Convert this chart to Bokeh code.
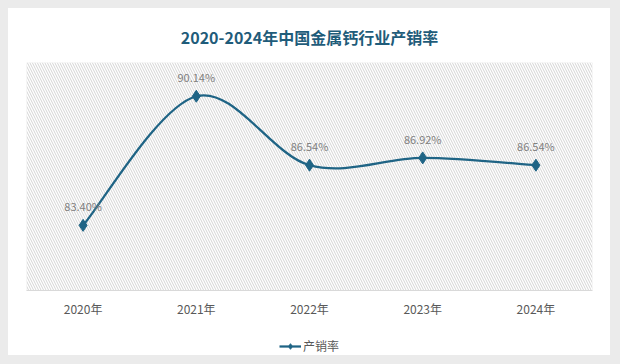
import numpy as np
from bokeh.plotting import figure
from bokeh.layouts import column
from bokeh.core.properties import value
from bokeh.models import (ColumnDataSource, LabelSet, Legend, LegendItem, BoxAnnotation,
                          FixedTicker, Range1d, Title)
from bokeh.embed import file_html
from bokeh.resources import INLINE

# ---- data ----
years = ["2020年", "2021年", "2022年", "2023年", "2024年"]
rate = [83.40, 90.14, 86.54, 86.92, 86.54]
rate_labels = ["83.40%", "90.14%", "86.54%", "86.92%", "86.54%"]
series_name = "产销率"
title_text = "2020-2024年中国金属钙行业产销率"

LINE = "#1f6485"
FONT = "Noto Sans CJK SC"

x = np.arange(len(years), dtype=float)
y = np.array(rate, dtype=float)

p = figure(width=602, height=312, output_backend="svg", toolbar_location=None,
           x_range=Range1d(-0.5, len(years) - 0.5), y_range=Range1d(80.0, 91.9),
           min_border_left=18, min_border_right=18, min_border_top=0, min_border_bottom=30,
           background_fill_color="white", border_fill_color="white")
p.outline_line_color = None
p.grid.visible = False
p.yaxis.visible = False

t = Title(text=title_text, align="center", text_font=FONT, text_font_size="16px",
          text_font_style="bold", text_color="#1f5c7a", standoff=28)
p.add_layout(t, "above")

# hatched plot area
p.add_layout(BoxAnnotation(fill_color="white", fill_alpha=1.0, hatch_pattern="\\",
                           hatch_color="#d4d4d4", hatch_scale=5, hatch_weight=1,
                           line_color="#dcdcdc", line_width=1, level="underlay"))

# smooth (Catmull-Rom -> bezier) curve through the data
px = np.concatenate([[x[0]], x, [x[-1]]])
py = np.concatenate([[y[0]], y, [y[-1]]])
n = len(x)
x0 = x[:-1]; y0 = y[:-1]; x1 = x[1:]; y1 = y[1:]
cx0 = x0 + (px[2:n + 1] - px[0:n - 1]) / 6.0
cy0 = y0 + (py[2:n + 1] - py[0:n - 1]) / 6.0
cx1 = x1 - (px[3:n + 2] - px[1:n]) / 6.0
cy1 = y1 - (py[3:n + 2] - py[1:n]) / 6.0
p.bezier(x0=x0, y0=y0, x1=x1, y1=y1, cx0=cx0, cy0=cy0, cx1=cx1, cy1=cy1,
         line_color=LINE, line_width=2.25)

src = ColumnDataSource(dict(x=x, y=y, lab=rate_labels))
p.scatter("x", "y", source=src, marker="diamond", size=12, fill_color=LINE,
          line_color=LINE)
p.add_layout(LabelSet(x="x", y="y", text="lab", source=src, y_offset=11,
                      text_align="center", text_baseline="bottom", text_font=value(FONT),
                      text_font_size=value("11px"), text_color="#808080"))

p.xaxis.ticker = FixedTicker(ticks=list(x))
p.xaxis.major_label_overrides = {i: s for i, s in enumerate(years)}
p.xaxis.major_tick_line_color = None
p.xaxis.minor_tick_line_color = None
p.xaxis.axis_line_color = "#d9d9d9"
p.xaxis.major_label_text_font = FONT
p.xaxis.major_label_text_font_size = "12px"
p.xaxis.major_label_text_color = "#595959"
p.xaxis.major_label_standoff = 3

# legend strip below the chart (series drawn outside its visible range; only legend shows)
p2 = figure(width=602, height=35, output_backend="svg", toolbar_location=None,
            x_range=Range1d(0, 1), y_range=Range1d(0, 1), min_border=0,
            background_fill_color="white", border_fill_color="white")
p2.outline_line_color = None
p2.axis.visible = False
p2.grid.visible = False
leg_line = p2.line(x=x, y=y, line_color=LINE, line_width=2.25)
leg_mark = p2.scatter(x=x, y=y, marker="diamond", size=9, fill_color=LINE, line_color=LINE)
legend = Legend(items=[LegendItem(label=series_name, renderers=[leg_line, leg_mark])],
                orientation="horizontal", location="bottom_center", border_line_color=None,
                background_fill_alpha=0, label_text_font=FONT, label_text_font_size="12px",
                label_text_color="#595959", glyph_width=22, glyph_height=14,
                label_standoff=2, padding=0, margin=1, spacing=0)
p2.add_layout(legend)

layout = column(p, p2, spacing=0, styles={"background-color": "white"})

html = file_html(layout, INLINE)
html = html.replace("<head>", "<head><style>html,body{background:#ebebeb !important;} body{padding:8px !important;}</style>", 1)
open("out.html", "w").write(html)
